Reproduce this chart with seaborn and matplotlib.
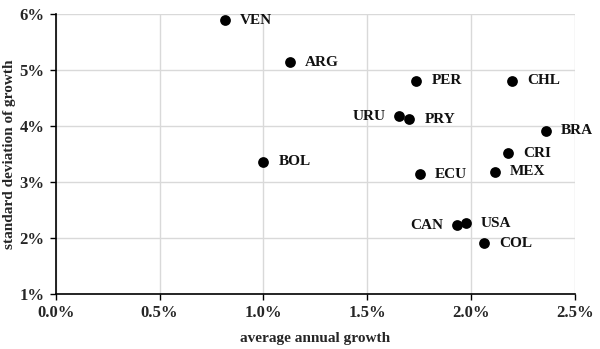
import matplotlib
matplotlib.use("Agg")
import matplotlib.pyplot as plt
import seaborn as sns
import pandas as pd
from matplotlib.ticker import FuncFormatter

countries = ["VEN", "ARG", "BOL", "PER", "CHL", "URU", "PRY", "BRA", "CRI", "MEX", "ECU", "CAN", "USA", "COL"]
avg_growth = [0.815, 1.127, 0.999, 1.737, 2.197, 1.654, 1.702, 2.359, 2.176, 2.115, 1.753, 1.933, 1.975, 2.063]
std_growth = [5.89, 5.14, 3.36, 4.81, 4.81, 4.17, 4.12, 3.91, 3.51, 3.18, 3.14, 2.23, 2.26, 1.90]
left_labels = ["URU", "CAN"]

df = pd.DataFrame({"country": countries, "x": avg_growth, "y": std_growth})

sns.set_theme(style="white")
plt.rcParams["font.family"] = ["Liberation Serif", "DejaVu Serif"]
plt.rcParams["font.weight"] = "bold"

fig, ax = plt.subplots(figsize=(6.0, 3.49), dpi=100)
fig.subplots_adjust(left=0.093, right=0.958, top=0.96, bottom=0.158)

sns.scatterplot(data=df, x="x", y="y", color="black", s=60, edgecolor="black", linewidth=0, ax=ax, zorder=3)

for c, x, y in zip(countries, avg_growth, std_growth):
    if c in left_labels:
        ax.annotate(c, (x, y), xytext=(-10, 0), textcoords="offset points", ha="right", va="center",
                    fontsize=11, fontweight="bold", color="#111111")
    else:
        ax.annotate(c, (x, y), xytext=(11, 0), textcoords="offset points", ha="left", va="center",
                    fontsize=11, fontweight="bold", color="#111111")

ax.set_xlim(0, 2.5)
ax.set_ylim(1, 6)
ax.set_xticks([0, 0.5, 1.0, 1.5, 2.0, 2.5])
ax.set_yticks([1, 2, 3, 4, 5, 6])
ax.xaxis.set_major_formatter(FuncFormatter(lambda v, p: f"{v:.1f}%"))
ax.yaxis.set_major_formatter(FuncFormatter(lambda v, p: f"{v:.0f}%"))
ax.grid(True, color="#d9d9d9", linewidth=1)
ax.set_axisbelow(True)
for s in ["top", "right"]:
    ax.spines[s].set_visible(False)
for s in ["left", "bottom"]:
    ax.spines[s].set_color("black")
    ax.spines[s].set_linewidth(1.2)
ax.tick_params(axis="both", which="major", direction="out", length=4, width=1, color="black",
               labelsize=12, pad=4, bottom=True, left=True)
for lab in ax.get_xticklabels() + ax.get_yticklabels():
    lab.set_fontweight("bold")
ax.set_xlabel("average annual growth", fontsize=11, fontweight="bold", labelpad=8)
ax.set_ylabel("standard deviation of growth", fontsize=11, fontweight="bold", labelpad=3)

fig.savefig("out.png", dpi=100)
